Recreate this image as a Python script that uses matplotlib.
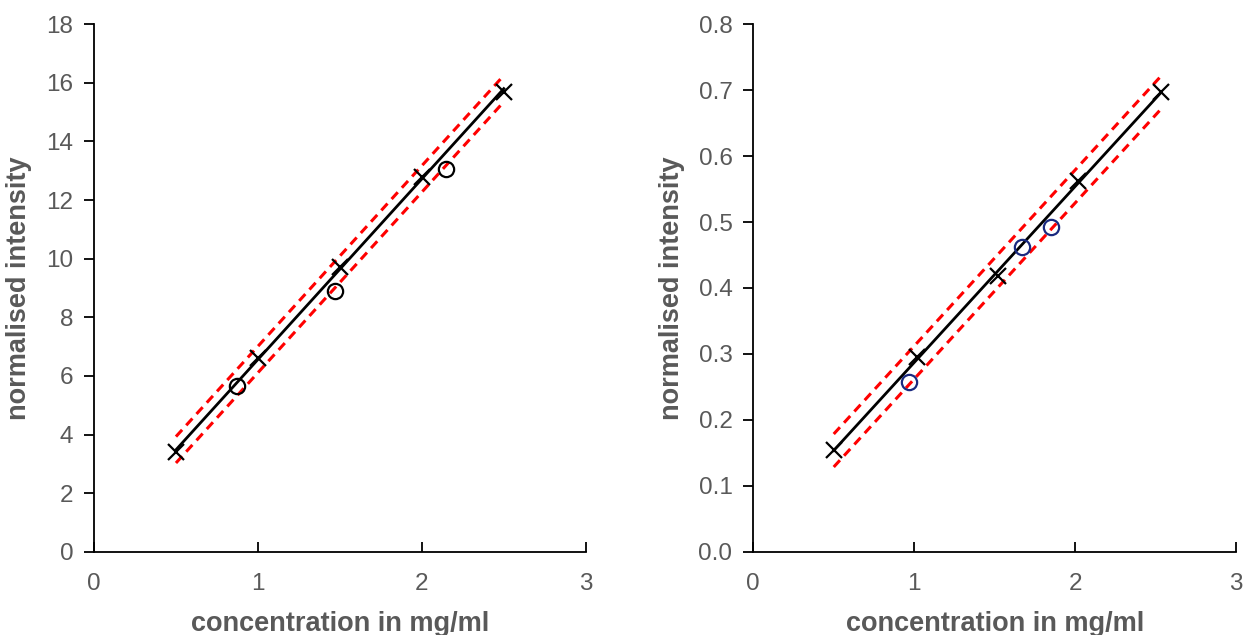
import numpy as np
import matplotlib
matplotlib.use("agg")
import matplotlib.pyplot as plt

plt.rcParams["font.family"] = ["Liberation Sans", "DejaVu Sans"]

# left panel
left_cross_x = [0.5, 1.0, 1.5, 2.0, 2.5]
left_cross_y = [3.4, 6.6, 9.7, 12.8, 15.7]
left_circ_x = [0.87, 1.47, 2.15]
left_circ_y = [5.65, 8.9, 13.05]
left_band = 0.45

# right panel
right_cross_x = [0.5, 1.02, 1.52, 2.02, 2.53]
right_cross_y = [0.155, 0.295, 0.418, 0.562, 0.697]
right_circ_x = [0.97, 1.67, 1.85]
right_circ_y = [0.258, 0.462, 0.493]
right_band = 0.025

grey = "#595959"

fig = plt.figure(figsize=(12.45, 6.35), dpi=100)
ax1 = fig.add_axes([0.0755, 0.131, 0.395, 0.831])
ax2 = fig.add_axes([0.605, 0.131, 0.388, 0.831])


def panel(ax, cx, cy, ox, oy, band, circ_col, ylim, yticks, yfmt):
    k, b = np.polyfit(cx, cy, 1)
    xs = np.array([min(cx), max(cx)])
    ax.plot(xs, k * xs + b + band, color="red", linestyle=(0, (3, 2)), linewidth=2.2)
    ax.plot(xs, k * xs + b - band, color="red", linestyle=(0, (3, 2)), linewidth=2.2)
    ax.plot(xs, k * xs + b, color="black", linewidth=2)
    ax.plot(cx, cy, linestyle="none", marker="x", color="black", markersize=12, markeredgewidth=1.6)
    ax.plot(ox, oy, linestyle="none", marker="o", markerfacecolor="none",
            markeredgecolor=circ_col, markersize=11, markeredgewidth=1.6)
    ax.set_xlim(0, 3)
    ax.set_ylim(*ylim)
    ax.set_xticks([0, 1, 2, 3])
    ax.set_yticks(yticks)
    ax.set_yticklabels([yfmt.format(v) for v in yticks])
    for s in ["top", "right"]:
        ax.spines[s].set_visible(False)
    for s in ["left", "bottom"]:
        ax.spines[s].set_linewidth(1.3)
    ax.tick_params(axis="x", direction="in", length=7, width=1.3, pad=15, labelsize=17.5, labelcolor=grey)
    ax.tick_params(axis="y", direction="out", length=7, width=1.3, pad=8, labelsize=17.5, labelcolor=grey)
    ax.set_xlabel("concentration in mg/ml", fontsize=19.5, fontweight="bold", color=grey, labelpad=12)
    ax.set_ylabel("normalised intensity", fontsize=19.5, fontweight="bold", color=grey, labelpad=10)


panel(ax1, left_cross_x, left_cross_y, left_circ_x, left_circ_y, left_band,
      "black", (0, 18), np.arange(0, 19, 2), "{:.0f}")
panel(ax2, right_cross_x, right_cross_y, right_circ_x, right_circ_y, right_band,
      "#1a2a80", (0, 0.8), np.round(np.arange(0, 0.81, 0.1), 1), "{:.1f}")

fig.savefig("out.png", dpi=100)
